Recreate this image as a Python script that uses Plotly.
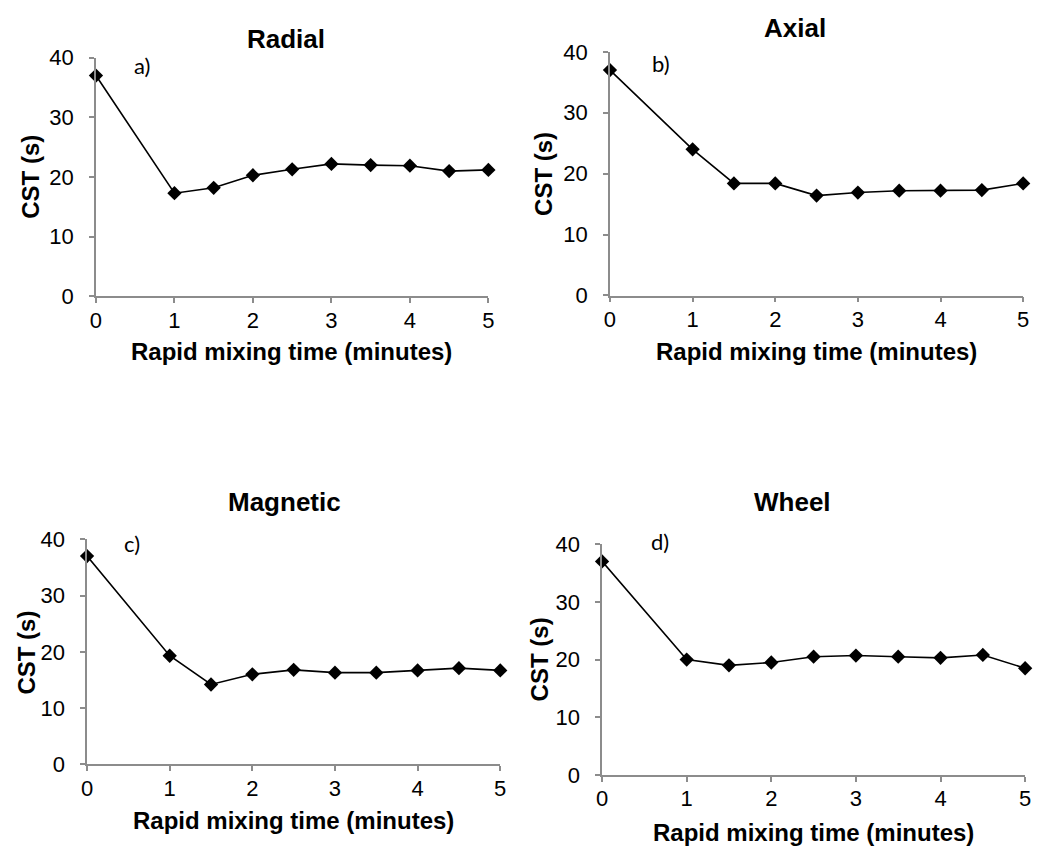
import plotly.graph_objects as go

W, H = 1043, 859

mixing_time = [0, 1, 1.5, 2, 2.5, 3, 3.5, 4, 4.5, 5]
radial = [37.0, 17.3, 18.2, 20.3, 21.3, 22.2, 22.0, 21.9, 21.0, 21.2]
axial = [37.0, 24.0, 18.4, 18.4, 16.4, 16.9, 17.2, 17.2, 17.3, 18.4]
magnetic = [37.0, 19.3, 14.2, 16.0, 16.8, 16.3, 16.3, 16.7, 17.1, 16.7]
wheel = [37.0, 20.0, 19.0, 19.5, 20.5, 20.7, 20.5, 20.3, 20.8, 18.5]

titles = ["Radial", "Axial", "Magnetic", "Wheel"]
letters = ["a)", "b)", "c)", "d)"]
x_ticks = [0, 1, 2, 3, 4, 5]
y_ticks = [0, 10, 20, 30, 40]
x_title = "Rapid mixing time (minutes)"
y_title = "CST (s)"

series = [radial, axial, magnetic, wheel]

# pixel boxes of plot areas: (left, right, top, bottom)
boxes = [(91, 488, 47, 293), (611, 1029, 41, 292), (82, 500, 543, 775), (603, 1031, 548, 786)]
title_pos = [(283, 28), (798, 16), (282, 505), (796, 505)]
letter_pos = [(138, 55), (663, 53), (127, 547), (662, 545)]
ytitle_pos = [(24, 170), (543, 167), (21, 660), (540, 667)]
xtitle_pos = [(289, 350), (820, 350), (291, 833), (817, 845)]

def px(x):
    return x / W

def py(y):
    return 1 - y / H

fig = go.Figure()
layout = dict(width=W, height=H, margin=dict(l=0, r=0, t=0, b=0),
              paper_bgcolor="white", plot_bgcolor="white", showlegend=False,
              font=dict(family="Liberation Sans, Arial, sans-serif", color="black"))
annotations = []
axis_color = "#8c8c8c"
for i, (vals, box) in enumerate(zip(series, boxes)):
    n = "" if i == 0 else str(i + 1)
    fig.add_trace(go.Scatter(x=mixing_time, y=vals, mode="lines+markers",
                             line=dict(color="black", width=1.6),
                             marker=dict(symbol="diamond", size=11, color="black"),
                             cliponaxis=False,
                             xaxis="x" + n, yaxis="y" + n))
    l, r, t, b = box
    layout["xaxis" + n] = dict(domain=[px(l), px(r)], anchor="y" + n, range=[0, 5],
                               tickvals=x_ticks, showgrid=False, zeroline=False,
                               showline=True, linecolor=axis_color, linewidth=1.5,
                               ticks="outside", ticklen=5, tickcolor=axis_color, tickwidth=1.5,
                               tickfont=dict(size=22), ticklabelstandoff=-2)
    layout["yaxis" + n] = dict(domain=[py(b), py(t)], anchor="x" + n, range=[0, 40],
                               tickvals=y_ticks, showgrid=False, zeroline=False,
                               showline=True, linecolor=axis_color, linewidth=1.5,
                               ticks="outside", ticklen=5, tickcolor=axis_color, tickwidth=1.5,
                               tickfont=dict(size=22), ticklabelstandoff=11)
    annotations.append(dict(text="<b>" + titles[i] + "</b>", x=px(title_pos[i][0]), y=py(title_pos[i][1]),
                            xref="paper", yref="paper", showarrow=False, font=dict(size=26),
                            xanchor="center", yanchor="middle"))
    annotations.append(dict(text=letters[i], x=px(letter_pos[i][0]), y=py(letter_pos[i][1]),
                            xref="paper", yref="paper", showarrow=False,
                            font=dict(size=22, family="Lato, Open Sans, sans-serif"),
                            xanchor="center", yanchor="middle"))
    annotations.append(dict(text="<b>" + y_title + "</b>", x=px(ytitle_pos[i][0]), y=py(ytitle_pos[i][1]),
                            xref="paper", yref="paper", showarrow=False, font=dict(size=24),
                            textangle=-90, xanchor="center", yanchor="middle"))
    annotations.append(dict(text="<b>" + x_title + "</b>", x=px(xtitle_pos[i][0]), y=py(xtitle_pos[i][1]),
                            xref="paper", yref="paper", showarrow=False, font=dict(size=24),
                            xanchor="center", yanchor="middle"))

layout["annotations"] = annotations
fig.update_layout(**layout)
fig.write_html("out.html")
